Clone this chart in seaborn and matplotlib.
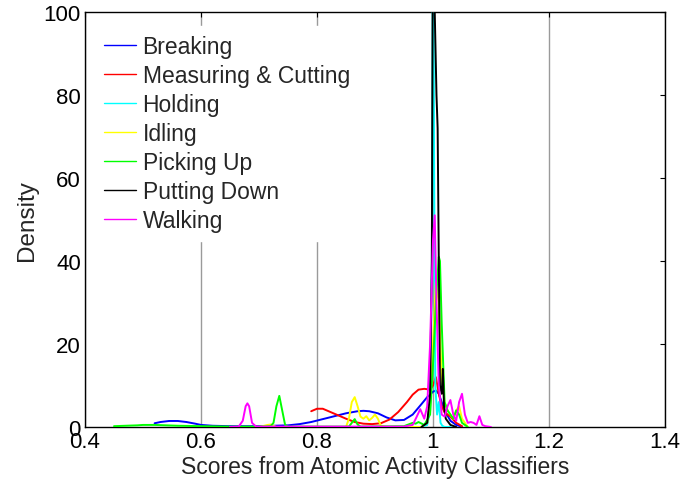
import matplotlib
matplotlib.use("Agg")
import matplotlib.pyplot as plt
import seaborn as sns

# Kernel density estimates of classifier scores, one curve per activity
breaking_x = [0.52, 0.53, 0.545, 0.56, 0.575, 0.59, 0.60, 0.62, 0.65, 0.70, 0.75, 0.77, 0.79,
              0.81, 0.83, 0.85, 0.87, 0.88, 0.89, 0.905, 0.92, 0.935, 0.95, 0.965, 0.98, 0.99,
              1.0, 1.005, 1.01, 1.02, 1.03, 1.04, 1.05]
breaking_y = [0.9, 1.2, 1.45, 1.45, 1.2, 0.8, 0.5, 0.3, 0.2, 0.2, 0.4, 0.7, 1.2,
              1.9, 2.6, 3.3, 3.8, 3.9, 3.8, 3.3, 2.3, 1.6, 1.7, 3.0, 5.5, 7.2,
              8.5, 8.8, 8.0, 4.0, 1.5, 0.5, 0.1]

measuring_x = [0.79, 0.80, 0.81, 0.82, 0.835, 0.85, 0.865, 0.88, 0.895, 0.91, 0.925, 0.94,
               0.955, 0.965, 0.975, 0.985, 0.995, 1.0, 1.005, 1.01, 1.015, 1.02, 1.03, 1.04, 1.05]
measuring_y = [3.8, 4.4, 4.4, 3.8, 2.9, 2.0, 1.2, 0.8, 0.7, 0.9, 1.8, 3.6,
               6.0, 7.8, 9.0, 9.2, 9.0, 10.0, 12.0, 8.0, 5.0, 3.5, 2.5, 1.0, 0.2]

holding_x = [0.98, 0.99, 0.995, 0.998, 1.0, 1.002, 1.004, 1.007, 1.01, 1.013, 1.016, 1.02, 1.03]
holding_y = [0.0, 0.5, 4.0, 40.0, 130.0, 60.0, 10.0, 3.0, 6.0, 1.0, 0.3, 0.0, 0.0]

idling_x = [0.65, 0.70, 0.715, 0.72, 0.725, 0.73, 0.85, 0.855, 0.86, 0.865, 0.87, 0.875, 0.88,
            0.885, 0.89, 0.895, 0.90, 0.905, 0.91, 0.92, 0.98, 0.99, 0.995, 1.0, 1.005, 1.01,
            1.015, 1.02, 1.025, 1.03, 1.035, 1.04, 1.045, 1.05, 1.06]
idling_y = [0.0, 0.0, 0.5, 0.6, 0.3, 0.0, 0.0, 2.0, 6.0, 7.2, 5.0, 2.5, 2.0,
            2.6, 1.6, 2.2, 3.0, 2.0, 0.3, 0.0, 0.0, 1.0, 5.0, 20.0, 35.0, 30.0,
            12.0, 6.0, 4.0, 3.0, 2.0, 4.0, 5.0, 2.0, 0.0]

picking_x = [0.45, 0.47, 0.49, 0.50, 0.52, 0.54, 0.56, 0.60, 0.65, 0.70, 0.72, 0.725, 0.73,
             0.735, 0.74, 0.745, 0.75, 0.80, 0.855, 0.86, 0.865, 0.87, 0.875, 0.95, 0.965,
             0.97, 0.975, 0.985, 0.995, 1.0, 1.005, 1.01, 1.012, 1.015, 1.02, 1.025, 1.03,
             1.035, 1.04, 1.045, 1.05, 1.06]
picking_y = [0.2, 0.3, 0.4, 0.5, 0.5, 0.4, 0.3, 0.2, 0.1, 0.1, 0.2, 1.0, 5.0,
             7.5, 4.0, 0.5, 0.1, 0.1, 0.1, 1.0, 1.9, 0.6, 0.1, 0.2, 1.0,
             0.8, 1.2, 0.5, 3.0, 15.0, 30.0, 41.0, 40.0, 25.0, 6.0, 4.0, 3.0,
             2.0, 4.0, 3.0, 1.0, 0.0]

putting_x = [0.98, 0.99, 0.995, 0.998, 1.0, 1.003, 1.006, 1.008, 1.01, 1.012, 1.015, 1.017,
             1.019, 1.022, 1.03, 1.04]
putting_y = [0.0, 1.0, 8.0, 40.0, 130.0, 100.0, 80.0, 72.0, 40.0, 10.0, 8.0, 14.0,
             5.0, 2.0, 0.5, 0.0]

walking_x = [0.65, 0.665, 0.672, 0.677, 0.68, 0.683, 0.688, 0.695, 0.95, 0.965, 0.972, 0.978,
             0.985, 0.99, 0.995, 1.0, 1.003, 1.006, 1.01, 1.015, 1.02, 1.025, 1.03, 1.035,
             1.04, 1.045, 1.05, 1.055, 1.06, 1.065, 1.07, 1.075, 1.08, 1.085, 1.09, 1.10]
walking_y = [0.0, 0.1, 1.5, 5.0, 5.7, 5.0, 1.0, 0.1, 0.1, 0.5, 2.5, 4.3,
             2.0, 5.0, 20.0, 45.0, 51.0, 30.0, 10.0, 3.0, 2.5, 5.0, 6.5, 3.0,
             1.5, 6.0, 8.0, 3.0, 1.0, 1.2, 1.0, 0.5, 2.6, 0.5, 0.2, 0.0]

series = [
    ("Breaking", breaking_x, breaking_y, "#0000ff"),
    ("Measuring & Cutting", measuring_x, measuring_y, "#ff0000"),
    ("Holding", holding_x, holding_y, "#00ffff"),
    ("Idling", idling_x, idling_y, "#ffff00"),
    ("Picking Up", picking_x, picking_y, "#00ff00"),
    ("Putting Down", putting_x, putting_y, "#000000"),
    ("Walking", walking_x, walking_y, "#ff00ff"),
]

x_ticks = [0.4, 0.6, 0.8, 1.0, 1.2, 1.4]
x_tick_labels = ["0.4", "0.6", "0.8", "1", "1.2", "1.4"]
y_ticks = [0, 20, 40, 60, 80, 100]

sns.set_style("white")
plt.rcParams["font.family"] = ["Liberation Sans", "DejaVu Sans"]

fig = plt.figure(figsize=(6.83, 4.85), dpi=100)
ax = fig.add_axes([85 / 683, 57 / 485, 580 / 683, 415 / 485])

for name, xs, ys, col in series:
    sns.lineplot(x=xs, y=ys, color=col, label=name, linewidth=1.4, ax=ax, zorder=3)

ax.set_xlim(0.4, 1.4)
ax.set_ylim(0, 100)
ax.set_xticks(x_ticks)
ax.set_xticklabels(x_tick_labels)
ax.set_yticks(y_ticks)
ax.grid(axis="x", color="#9a9a9a", linewidth=1.0, zorder=0)
ax.grid(axis="y", visible=False)
ax.tick_params(direction="in", length=3.5, width=0.8, top=True, right=True,
               labelsize=16, colors="black", pad=3)
for side in ax.spines.values():
    side.set_color("black")
    side.set_linewidth(1.0)

ax.set_xlabel("Scores from Atomic Activity Classifiers", fontsize=16.5, labelpad=2)
ax.set_ylabel("Density", fontsize=17.5, labelpad=4)

leg = ax.legend(loc="upper left", bbox_to_anchor=(0.017, 0.966), borderaxespad=0,
                fontsize=16.5, frameon=True, facecolor="white", edgecolor="white",
                framealpha=1.0, fancybox=False, borderpad=0.4, labelspacing=0.26,
                handlelength=1.4, handletextpad=0.28)
leg.set_zorder(5)
for h in leg.get_lines():
    h.set_linewidth(1.0)

fig.savefig("out.png", dpi=100)
